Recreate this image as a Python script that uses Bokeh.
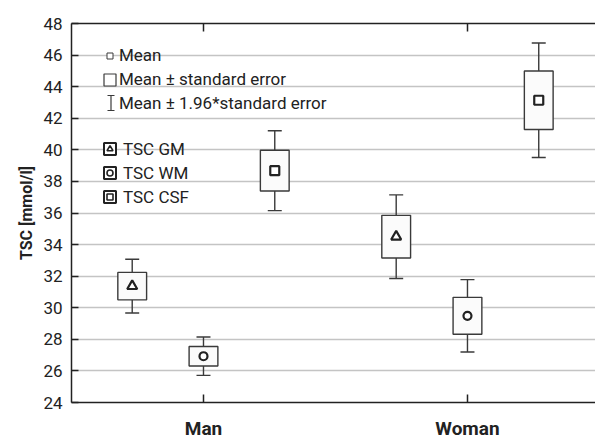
from bokeh.plotting import figure
from bokeh.models import (Range1d, FixedTicker, LinearAxis, Legend, LegendItem,
                          Whisker, ColumnDataSource, TeeHead)
from bokeh.embed import file_html
from bokeh.resources import INLINE

# ---- data ----
categories = ["Man", "Woman"]
series_names = ["TSC GM", "TSC WM", "TSC CSF"]
gm_mean = [31.37, 34.50]
gm_se = [0.87, 1.35]
wm_mean = [26.93, 29.49]
wm_se = [0.62, 1.17]
csf_mean = [38.68, 43.14]
csf_se = [1.29, 1.85]
y_ticks = [24, 26, 28, 30, 32, 34, 36, 38, 40, 42, 44, 46, 48]
z_factor = 1.96

FONT = "Roboto"
DARK = "#222222"
BOXC = "#3a3a3a"
NAN = float("nan")

p = figure(width=595, height=442, output_backend="svg", toolbar_location=None,
           x_range=Range1d(0.5, 2.485), y_range=Range1d(24, 48),
           min_border_left=71, min_border_right=0, min_border_top=23,
           min_border_bottom=38)
p.outline_line_color = None
p.background_fill_color = "white"
p.xgrid.visible = False
p.ygrid.ticker = FixedTicker(ticks=y_ticks)
p.ygrid.grid_line_color = "#c4c4c4"
p.ygrid.grid_line_width = 1.5

# left axis
ya = p.yaxis[0]
ya.ticker = FixedTicker(ticks=y_ticks)
ya.major_tick_in = 7
ya.major_tick_out = 0
ya.minor_tick_in = 0
ya.minor_tick_out = 0
ya.axis_line_color = DARK
ya.axis_line_width = 1.5
ya.major_tick_line_color = DARK
ya.major_tick_line_width = 1.5
ya.major_label_text_font = FONT
ya.major_label_text_font_size = "17px"
ya.major_label_text_color = DARK
ya.major_label_standoff = 9
ya.axis_label = "TSC [mmol/l]"
ya.axis_label_text_font = FONT
ya.axis_label_text_font_style = "bold"
ya.axis_label_text_font_size = "16px"
ya.axis_label_text_color = DARK
ya.axis_label_standoff = 4

cat_pos = [i + 1 for i in range(len(categories))]

# bottom axis
xa = p.xaxis[0]
xa.ticker = FixedTicker(ticks=cat_pos)
xa.major_label_overrides = {pos: c for pos, c in zip(cat_pos, categories)}
xa.major_tick_in = 8
xa.major_tick_out = 0
xa.minor_tick_in = 0
xa.minor_tick_out = 0
xa.axis_line_color = DARK
xa.axis_line_width = 1.5
xa.major_tick_line_color = DARK
xa.major_tick_line_width = 1.5
xa.major_label_text_font = FONT
xa.major_label_text_font_style = "bold"
xa.major_label_text_font_size = "19px"
xa.major_label_text_color = DARK
xa.major_label_standoff = 14

# top axis (frame line with inward ticks)
ta = LinearAxis(ticker=FixedTicker(ticks=cat_pos), major_tick_in=8, major_tick_out=0,
                minor_tick_in=0, minor_tick_out=0, axis_line_color=DARK,
                axis_line_width=1.5, major_tick_line_color=DARK, major_tick_line_width=1.5,
                major_label_text_font_size="0px", major_label_standoff=0)
ta.major_label_overrides = {pos: "" for pos in cat_pos}
p.add_layout(ta, "above")

offsets = [-0.27, 0.0, 0.27]
markers = ["triangle", "circle", "square"]
msizes = [10, 8, 9]
means = [gm_mean, wm_mean, csf_mean]
ses = [gm_se, wm_se, csf_se]
box_w = 0.109
cap_w = 0.053

for off, mk, ms, mean, se in zip(offsets, markers, msizes, means, ses):
    xs = [c + off for c in cat_pos]
    top = [m + s for m, s in zip(mean, se)]
    bot = [m - s for m, s in zip(mean, se)]
    up = [m + z_factor * s for m, s in zip(mean, se)]
    lo = [m - z_factor * s for m, s in zip(mean, se)]
    src = ColumnDataSource(dict(x=xs, x0=[x - cap_w / 2 for x in xs],
                                x1=[x + cap_w / 2 for x in xs],
                                mean=mean, top=top, bot=bot, up=up, lo=lo))
    p.segment(x0="x", y0="top", x1="x", y1="up", source=src, line_color=BOXC, line_width=1.4)
    p.segment(x0="x", y0="bot", x1="x", y1="lo", source=src, line_color=BOXC, line_width=1.4)
    p.segment(x0="x0", y0="up", x1="x1", y1="up", source=src, line_color=BOXC, line_width=1.4)
    p.segment(x0="x0", y0="lo", x1="x1", y1="lo", source=src, line_color=BOXC, line_width=1.4)
    p.vbar(x="x", width=box_w, top="top", bottom="bot", source=src,
           fill_color="#fbfbfb", line_color=BOXC, line_width=1.4)
    p.scatter(x="x", y="mean", source=src, marker=mk, size=ms, fill_color="white",
              line_color=DARK, line_width=2.2)

# ---- legend (placeholder renderers, never drawn in the plot: NaN rows) ----
r_mean = p.scatter(x=[NAN], y=[NAN], marker="square", size=6, fill_color="white",
                   line_color=BOXC, line_width=1)
r_box = p.quad(left=[NAN], right=[NAN], top=[NAN], bottom=[NAN], fill_color="white",
               line_color=BOXC, line_width=1.2)
r_none = p.scatter(x=[NAN], y=[NAN], marker="square", size=1, fill_alpha=0, line_alpha=0)

leg1 = Legend(items=[LegendItem(label="Mean", renderers=[r_mean]),
                     LegendItem(label="Mean \u00b1 standard error", renderers=[r_box]),
                     LegendItem(label="Mean \u00b1 1.96*standard error", renderers=[r_none])],
              location=(31, 288.5), glyph_width=15, glyph_height=15, label_height=21,
              spacing=3, padding=0, margin=0, label_standoff=2,
              border_line_color=None, background_fill_alpha=0,
              label_text_font=FONT, label_text_font_size="17px", label_text_color=DARK)

items2 = []
for name, mk in zip(series_names, markers):
    rq = p.quad(left=[NAN], right=[NAN], top=[NAN], bottom=[NAN], fill_color="white",
                line_color=DARK, line_width=2)
    rm = p.scatter(x=[NAN], y=[NAN], marker=mk, size=6, fill_color="white",
                   line_color=DARK, line_width=1.6)
    items2.append(LegendItem(label=name, renderers=[rq, rm]))
leg2 = Legend(items=items2, location=(31, 195), glyph_width=15, glyph_height=15,
              label_height=21, spacing=3, padding=0, margin=0, label_standoff=6,
              border_line_color=None, background_fill_alpha=0,
              label_text_font=FONT, label_text_font_size="17px", label_text_color=DARK)
p.add_layout(leg1)
p.add_layout(leg2)

ibeam = Whisker(source=ColumnDataSource(dict(b=[39.5], lo=[292], hi=[307])),
                base="b", lower="lo", upper="hi", dimension="height",
                base_units="screen", lower_units="screen", upper_units="screen",
                line_color=BOXC, line_width=1.2,
                lower_head=TeeHead(size=7, line_color=BOXC, line_width=1.2),
                upper_head=TeeHead(size=7, line_color=BOXC, line_width=1.2))
p.add_layout(ibeam)

open("out.html", "w").write(file_html(p, INLINE))
